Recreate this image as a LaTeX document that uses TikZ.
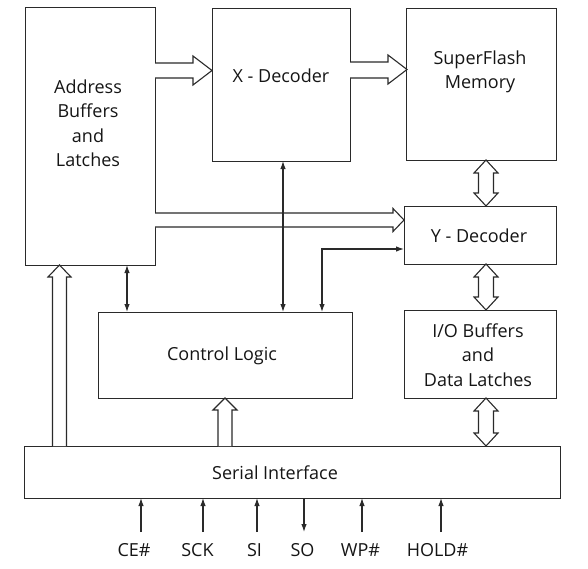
\documentclass[tikz,border=0pt]{standalone}
\usepackage{fontspec}
\setmainfont{Open Sans}
\usetikzlibrary{arrows.meta,calc}
\definecolor{ln}{HTML}{2A2A2A}
\definecolor{tx}{HTML}{151515}
\begin{document}
\begin{tikzpicture}[x=1pt,y=-1pt,
  blk/.style={draw=ln,line width=1.2pt,fill=none,inner sep=0pt,anchor=north west},
  lbl/.style={text=tx,align=center,font=\fontsize{18}{24.5}\selectfont,inner sep=0pt},
  harrow/.style={draw=ln,line width=1.1pt,fill=white,line join=miter},
  tarrow/.style={draw=ln,line width=1.1pt,-{Latex[length=8pt,width=5.5pt]}},
  tarrows/.style={draw=ln,line width=1.1pt,{Latex[length=8pt,width=5.5pt]}-{Latex[length=8pt,width=5.5pt]}}]
\useasboundingbox (0,0) rectangle (588,568);
% blocks
\node[blk,minimum width=130pt,minimum height=258pt] (addr) at (25,7) {};
\node[blk,minimum width=138pt,minimum height=153pt] (xdec) at (212,8) {};
\node[blk,minimum width=150pt,minimum height=152pt] (sfm) at (406,8) {};
\node[blk,minimum width=152pt,minimum height=58pt] (ydec) at (404,206) {};
\node[blk,minimum width=152pt,minimum height=88pt] (iob) at (404,310) {};
\node[blk,minimum width=254pt,minimum height=86pt] (ctrl) at (98,312) {};
\node[blk,minimum width=536pt,minimum height=52pt] (ser) at (24,446) {};
% labels
\node[lbl] (addrl) at (88,123) {Address\\Buffers\\and\\Latches};
\node[lbl] (xdecl) at (281,76) {X - Decoder};
\node[lbl] (sfml) at (480,72) {SuperFlash\\Memory};
\node[lbl] (ydecl) at (479,236) {Y - Decoder};
\node[lbl] (iobl) at (478,355) {I/O Buffers\\and\\Data Latches};
\node[lbl] (ctrll) at (222,356) {Control Logic};
\node[lbl] (serl) at (275,473) {Serial Interface};
% hollow arrows
\draw[harrow] (155,63) -- (193,63) -- (193,56) -- (212,70.5) -- (193,85) -- (193,78) -- (155,78);
\draw[harrow] (350,62) -- (388,62) -- (388,55) -- (407,69.5) -- (388,84) -- (388,78) -- (350,78);
\draw[harrow] (155,213) -- (393,213) -- (393,208.5) -- (404,220) -- (393,231.5) -- (393,227) -- (155,227);
\draw[harrow] (52.5,446) -- (52.5,277) -- (48,277) -- (59.5,265) -- (71,277) -- (66.5,277) -- (66.5,446);
\draw[harrow] (218,446) -- (218,410) -- (213,410) -- (225,398) -- (237,410) -- (232,410) -- (232,446);
\foreach \a/\b in {160/206,264/310,398/446}{
  \draw[harrow] (486,\a) -- (498,\a+13) -- (493.5,\a+13) -- (493.5,\b-13) -- (498,\b-13) -- (486,\b)
     -- (474,\b-13) -- (478.5,\b-13) -- (478.5,\a+13) -- (474,\a+13) -- cycle;
}
% thin arrows
\draw[tarrows] (283,161) -- (283,312);
\draw[tarrows] (127,265) -- (127,312);
\coordinate (elb) at (322,249);
\draw[tarrows] (322,312) -- (elb) -- (404,249);
% pins
\foreach \x/\n in {141/ce,203/sck,257/si,362/wp,441/hold}{
  \coordinate (p\n) at (\x,532);
  \draw[tarrow] (p\n) -- (\x,498);
}
\coordinate (pso) at (304,532);
\draw[tarrow] (304,498) -- (pso);
\node[lbl] (lce) at (134,550) {CE\#};
\node[lbl] (lsck) at (197.5,550) {SCK};
\node[lbl] (lsi) at (254.5,550) {SI};
\node[lbl] (lso) at (302.5,550) {SO};
\node[lbl] (lwp) at (360.5,550) {WP\#};
\node[lbl] (lhold) at (437.5,550) {HOLD\#};
\end{tikzpicture}
\end{document}
